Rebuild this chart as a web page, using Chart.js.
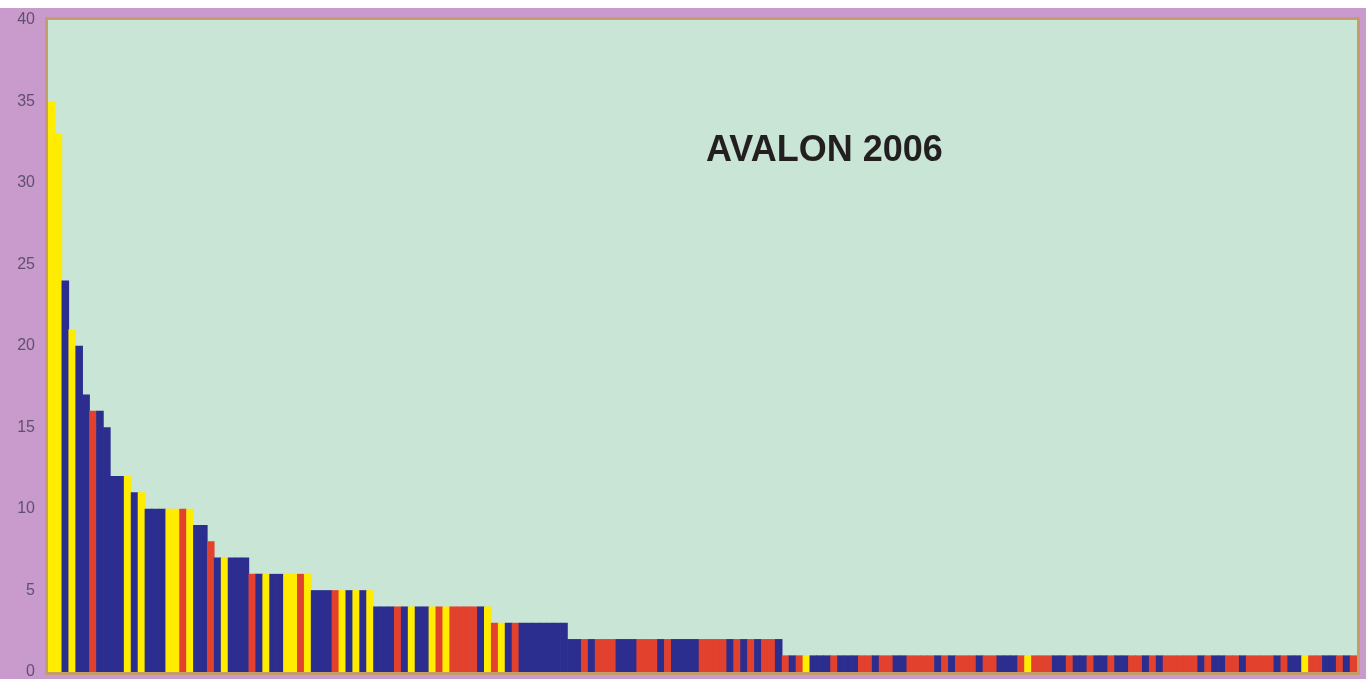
<!DOCTYPE html>
<html>
<head>
<meta charset="utf-8">
<title>AVALON 2006</title>
<script src="https://cdn.jsdelivr.net/npm/chart.js@4.4.0/dist/chart.umd.min.js"></script>
<style>
  html, body { margin: 0; padding: 0; background: #ffffff; overflow: hidden; }
  #wrap { position: absolute; left: 0; top: 8px; width: 1366px; height: 671px; background: #c99bcc; overflow: hidden; }
  #canvas { position: absolute; left: 0; top: 0; }
  #title { position: absolute; left: 706px; top: 123px; font: bold 36px "Liberation Sans", Arial, sans-serif;
           line-height: 36px; color: #231f20; white-space: nowrap; }
</style>
</head>
<body>
<div id="wrap">
  <canvas id="canvas" width="1366" height="690"></canvas>
  <div id="title">AVALON 2006</div>
</div>
<script>
// bar heights, left to right
var values = [
  35, 33, 24, 21, 20, 17, 16, 16, 15,
  12, 12, 12, 11, 11,
  10, 10, 10, 10, 10, 10, 10,
  9, 9, 8,
  7, 7, 7, 7, 7,
  6, 6, 6, 6, 6, 6, 6, 6, 6,
  5, 5, 5, 5, 5, 5, 5, 5, 5,
  4, 4, 4, 4, 4, 4, 4, 4, 4, 4, 4, 4, 4, 4, 4, 4, 4,
  3, 3, 3, 3, 3, 3, 3, 3, 3, 3, 3,
  2, 2, 2, 2, 2, 2, 2, 2, 2, 2, 2, 2, 2, 2, 2, 2, 2, 2, 2, 2,
  2, 2, 2, 2, 2, 2, 2, 2, 2, 2, 2,
  1, 1, 1, 1, 1, 1, 1, 1, 1, 1, 1, 1, 1, 1, 1, 1, 1, 1, 1, 1,
  1, 1, 1, 1, 1, 1, 1, 1, 1, 1, 1, 1, 1, 1, 1, 1, 1, 1, 1, 1,
  1, 1, 1, 1, 1, 1, 1, 1, 1, 1, 1, 1, 1, 1, 1, 1, 1, 1, 1, 1,
  1, 1, 1, 1, 1, 1, 1, 1, 1, 1, 1, 1, 1, 1, 1, 1, 1, 1, 1, 1,
  1, 1, 1
];

// colour group of each bar: Y yellow, N navy, R red
var groups = (
  "YYNYNNRNN" + "NNYNY" + "NNNYYRY" + "NNR" + "NYNNN" +
  "RNYNNYYRY" + "NNNRYNYNY" + "NNNRNYNNYRYRRRRNY" + "RYNRNNNNNNN" +
  "NNRNRRRNNNRRRNRNNNNRRRRNRNRNRRN" +
  "RNRYNNNRNNNRRNRRNNRRRRNRNRRRNRRNNNRYRRRNNRNNRNNRNNRRNRNRRRRRNRNNRRNRRRRNRNNYRRNNRNR"
).split("");

var yTicks = [0, 5, 10, 15, 20, 25, 30, 35, 40];

var labels = values.map(function (v, i) { return String(i + 1); });

var palette = { Y: "#ffec00", N: "#2b2d8f", R: "#e2412d" };
var barColors = groups.map(function (g) { return palette[g]; });

var plotBg = {
  id: "plotBg",
  beforeDraw: function (chart) {
    var a = chart.chartArea, ctx = chart.ctx;
    ctx.save();
    ctx.fillStyle = "#c9e5d5";
    ctx.fillRect(a.left, a.top, a.right - a.left, a.bottom - a.top);
    ctx.restore();
  },
  beforeDatasetsDraw: function (chart) {
    var a = chart.chartArea, ctx = chart.ctx;
    ctx.save();
    ctx.strokeStyle = "#c49d68";
    ctx.lineWidth = 3;
    ctx.strokeRect(a.left - 1.5, a.top - 1.5, a.right - a.left + 3, a.bottom - a.top + 3);
    ctx.restore();
  }
};

var ctx = document.getElementById("canvas").getContext("2d");
var myChart = new Chart(ctx, {
  type: "bar",
  data: {
    labels: labels,
    datasets: [{
      label: "AVALON 2006",
      data: values,
      backgroundColor: barColors,
      borderWidth: 0,
      categoryPercentage: 1.0,
      barPercentage: 1.0
    }]
  },
  options: {
    responsive: false,
    animation: false,
    devicePixelRatio: 1,
    layout: { padding: { left: 0, right: 9, top: 12, bottom: 26 } },
    plugins: { legend: { display: false }, tooltip: { enabled: false }, title: { display: false } },
    scales: {
      x: { display: false },
      y: {
        min: 0,
        max: 40,
        afterFit: function (s) { s.width = 48; s.paddingTop = 0; s.paddingBottom = 0; },
        afterBuildTicks: function (s) { s.ticks = yTicks.map(function (v) { return { value: v }; }); },
        grid: { display: false, drawTicks: false },
        border: { display: false },
        ticks: {
          padding: 13,
          color: "#5f5070",
          font: { family: "'Liberation Sans', Arial, sans-serif", size: 16 }
        }
      }
    }
  },
  plugins: [plotBg]
});
</script>
</body>
</html>
